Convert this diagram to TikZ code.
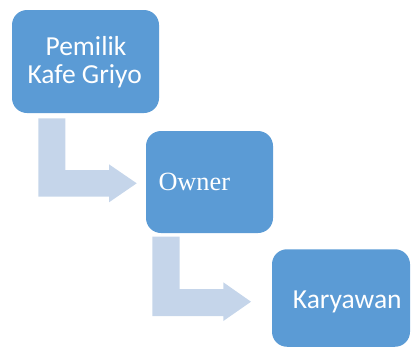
\documentclass[tikz,border=0pt]{standalone}
\usepackage{fontspec}
\setmainfont{Carlito}
\newfontfamily\timesfont{Liberation Serif}
\definecolor{boxblue}{RGB}{91,155,213}
\definecolor{arrowblue}{RGB}{197,213,234}
\begin{document}
\begin{tikzpicture}[x=1pt,y=-1pt,
  box/.style={fill=boxblue,draw=none,rounded corners=15pt,inner sep=0pt},
  lbl/.style={text=white,inner sep=0pt,font=\fontsize{27.5}{28}\selectfont},
  bentarrow/.style={fill=arrowblue,draw=none}]
\useasboundingbox (0,0) rectangle (411,349);
% boxes
\node[box,minimum width=147pt,minimum height=103pt] (b1) at (85.5,61.5) {};
\node[box,minimum width=127pt,minimum height=102pt] (b2) at (209.5,182) {};
\node[box,minimum width=138pt,minimum height=97.5pt] (b3) at (341,298) {};
% labels
\node[lbl,anchor=base] (t1a) at (86,55) {Pemilik};
\node[lbl,anchor=base] (t1b) at (84.7,83) {Kafe Griyo};
\node[lbl,anchor=base west,font=\timesfont\fontsize{26.3}{28}\selectfont] (t2) at (158.3,190.7) {Owner};
\node[lbl,anchor=base west] (t3) at (292.7,308.3) {Karyawan};
% bent arrows
\fill[bentarrow] (38.3,118.3) -- (65.3,118.3) -- (65.3,170) -- (109,170) -- (109,164.3)
  -- (136.7,183.3) -- (109,202.3) -- (109,196.7) -- (38.3,196.7) -- cycle;
\fill[bentarrow] (152.3,236.7) -- (179.7,236.7) -- (179.7,289) -- (223.3,289) -- (223.3,282.3)
  -- (251,301.7) -- (223.3,321) -- (223.3,316) -- (152.3,316) -- cycle;
\end{tikzpicture}
\end{document}
